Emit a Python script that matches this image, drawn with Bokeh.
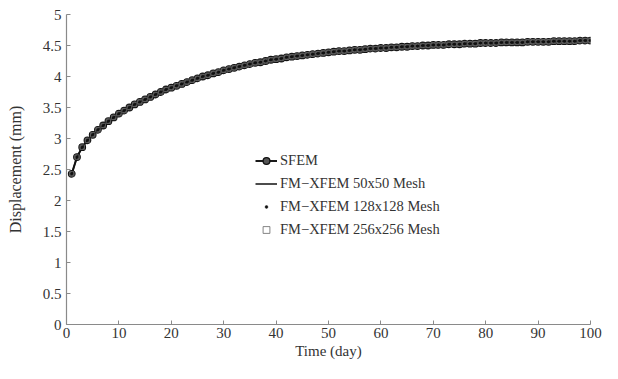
from bokeh.plotting import figure
from bokeh.models import Legend, LegendItem, CustomJSTickFormatter, FixedTicker
from bokeh.embed import file_html
from bokeh.resources import INLINE

# Time (day)
days = list(range(1, 101))
# Displacement (mm)
sfem = [2.43, 2.70, 2.86, 2.97, 3.06, 3.14, 3.21, 3.28, 3.34, 3.40,
        3.45, 3.50, 3.55, 3.59, 3.63, 3.67, 3.71, 3.75, 3.79, 3.82,
        3.85, 3.88, 3.91, 3.94, 3.97, 4.00, 4.02, 4.05, 4.07, 4.10,
        4.12, 4.14, 4.16, 4.18, 4.20, 4.22, 4.23, 4.25, 4.27, 4.28,
        4.29, 4.31, 4.32, 4.33, 4.34, 4.35, 4.36, 4.37, 4.38, 4.39,
        4.40, 4.41, 4.41, 4.42, 4.43, 4.43, 4.44, 4.45, 4.45, 4.46,
        4.46, 4.47, 4.47, 4.48, 4.48, 4.49, 4.49, 4.50, 4.50, 4.51,
        4.51, 4.51, 4.52, 4.52, 4.52, 4.53, 4.53, 4.53, 4.54, 4.54,
        4.54, 4.54, 4.55, 4.55, 4.55, 4.55, 4.55, 4.56, 4.56, 4.56,
        4.56, 4.56, 4.57, 4.57, 4.57, 4.57, 4.57, 4.58, 4.58, 4.58]
mesh50 = list(sfem)
mesh128 = list(sfem)
mesh256 = list(sfem)

x_ticks = [0, 10, 20, 30, 40, 50, 60, 70, 80, 90, 100]
y_ticks = [0, 0.5, 1, 1.5, 2, 2.5, 3, 3.5, 4, 4.5, 5]

FONT = "Liberation Serif"
TXT = "#333333"

p = figure(width=602, height=363, output_backend="svg", toolbar_location=None,
           x_range=(0, 100), y_range=(0, 5),
           min_border_left=66, min_border_right=12, min_border_top=14, min_border_bottom=39)
p.outline_line_color = None
p.xgrid.visible = False
p.ygrid.visible = False
p.background_fill_color = "white"
p.border_fill_color = "white"

for ax in (p.xaxis[0], p.yaxis[0]):
    ax.axis_line_color = "#8a8a8a"
    ax.axis_line_width = 1.2
    ax.major_tick_line_color = "#8a8a8a"
    ax.major_tick_in = 4
    ax.major_tick_out = 0
    ax.minor_tick_line_color = None
    ax.major_label_text_font = FONT
    ax.major_label_text_font_size = "15px"
    ax.major_label_text_color = TXT
    ax.axis_label_text_font = FONT
    ax.axis_label_text_font_size = "15px"
    ax.axis_label_text_font_style = "normal"
    ax.axis_label_text_color = TXT

p.xaxis.ticker = FixedTicker(ticks=x_ticks)
p.yaxis.ticker = FixedTicker(ticks=y_ticks)
p.yaxis.formatter = CustomJSTickFormatter(code="return (tick % 1 === 0) ? tick.toFixed(0) : tick.toFixed(1);")
p.xaxis.major_label_standoff = 3
p.yaxis.major_label_standoff = 5
p.xaxis.axis_label = "Time (day)"
p.yaxis.axis_label = "Displacement (mm)"
p.yaxis.axis_label_text_font_size = "16px"
p.xaxis.axis_label_standoff = 2
p.yaxis.axis_label_standoff = 16

r_sfem_l = p.line(days, sfem, line_color="#1a1a1a", line_width=2)
r_sfem_c = p.scatter(days, sfem, marker="circle", size=6.5, fill_color="#555555",
                     line_color="#111111", line_width=1.3)
r50 = p.line(days, mesh50, line_color="#111111", line_width=1.5)
r256 = p.scatter(days, mesh256, marker="square", size=4.5, fill_color=None,
                 line_color="#666666", line_width=0.8)
r128 = p.scatter(days, mesh128, marker="circle", size=2.5, fill_color="#111111",
                 line_color="#111111", line_width=0.5)


def make_legend(items, loc, gh):
    lg = Legend(items=items, location=loc)
    lg.border_line_color = None
    lg.background_fill_alpha = 0
    lg.padding = 0
    lg.margin = 0
    lg.spacing = 6
    lg.glyph_width = 22
    lg.glyph_height = gh
    lg.label_height = 17
    lg.label_standoff = 3
    lg.label_text_font = FONT
    lg.label_text_font_size = "14.5px"
    lg.label_text_color = TXT
    p.add_layout(lg, "center")
    return lg


make_legend([LegendItem(label="SFEM", renderers=[r_sfem_l, r_sfem_c]),
             LegendItem(label="FM\u2212XFEM 50x50 Mesh", renderers=[r50])], (189, 132), 17)
make_legend([LegendItem(label="FM\u2212XFEM 128x128 Mesh", renderers=[r128])], (189, 109), 7)
make_legend([LegendItem(label="FM\u2212XFEM 256x256 Mesh", renderers=[r256])], (189, 86), 17)

open("out.html", "w").write(file_html(p, INLINE))
